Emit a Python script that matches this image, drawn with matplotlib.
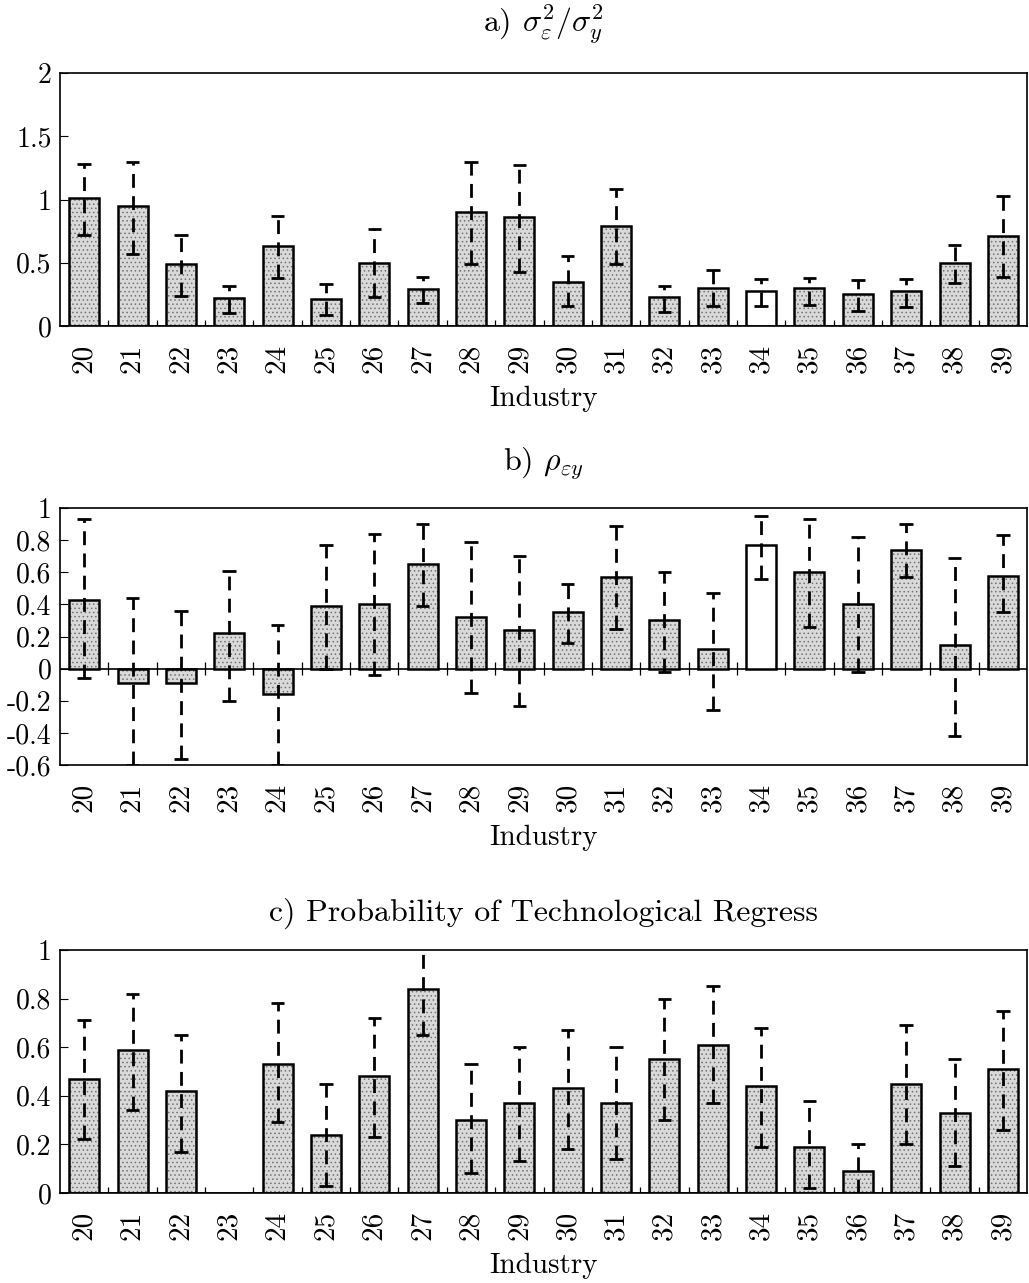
import numpy as np
import matplotlib
matplotlib.use("Agg")
from matplotlib import pyplot as plt

plt.rcParams['font.family'] = 'serif'
plt.rcParams['font.serif'] = ['cmr10', 'DejaVu Serif']
plt.rcParams['mathtext.fontset'] = 'cm'
plt.rcParams['axes.unicode_minus'] = False
plt.rcParams['hatch.linewidth'] = 0.6

industries = [str(i) for i in range(20, 40)]

# a) variance ratio
a_val = [1.01, 0.95, 0.49, 0.22, 0.63, 0.21, 0.50, 0.29, 0.90, 0.86,
         0.35, 0.79, 0.23, 0.30, 0.28, 0.30, 0.25, 0.28, 0.50, 0.71]
a_lo = [0.72, 0.57, 0.24, 0.10, 0.38, 0.09, 0.23, 0.18, 0.49, 0.43,
        0.16, 0.49, 0.11, 0.16, 0.16, 0.17, 0.12, 0.15, 0.34, 0.39]
a_hi = [1.28, 1.30, 0.72, 0.32, 0.87, 0.33, 0.77, 0.39, 1.30, 1.27,
        0.55, 1.08, 0.32, 0.44, 0.37, 0.38, 0.36, 0.37, 0.64, 1.03]

# b) correlation
b_val = [0.43, -0.09, -0.09, 0.22, -0.16, 0.39, 0.40, 0.65, 0.32, 0.24,
         0.35, 0.57, 0.30, 0.12, 0.77, 0.60, 0.40, 0.74, 0.15, 0.58]
b_lo = [-0.06, -0.60, -0.56, -0.20, -0.60, 0.00, -0.04, 0.39, -0.15, -0.23,
        0.16, 0.25, -0.02, -0.26, 0.56, 0.26, -0.02, 0.57, -0.42, 0.35]
b_hi = [0.93, 0.44, 0.36, 0.61, 0.27, 0.77, 0.84, 0.90, 0.79, 0.70,
        0.53, 0.89, 0.60, 0.47, 0.95, 0.93, 0.82, 0.90, 0.69, 0.83]

# c) probability of technological regress (23 has no estimate)
c_val = [0.47, 0.59, 0.42, np.nan, 0.53, 0.24, 0.48, 0.84, 0.30, 0.37,
         0.43, 0.37, 0.55, 0.61, 0.44, 0.19, 0.09, 0.45, 0.33, 0.51]
c_lo = [0.22, 0.34, 0.17, np.nan, 0.29, 0.03, 0.23, 0.65, 0.08, 0.13,
        0.18, 0.14, 0.30, 0.37, 0.19, 0.02, 0.00, 0.20, 0.11, 0.26]
c_hi = [0.71, 0.82, 0.65, np.nan, 0.78, 0.45, 0.72, 1.01, 0.53, 0.60,
        0.67, 0.60, 0.80, 0.85, 0.68, 0.38, 0.20, 0.69, 0.55, 0.75]

panels = [
    (r'a) $\sigma_\varepsilon^2/\sigma_y^2$', a_val, a_lo, a_hi,
     (0, 2), [0, 0.5, 1, 1.5, 2], ['0', '0.5', '1', '1.5', '2'],
     [0.0583, 0.7459, 0.9398, 0.1972], ['34'], 30),
    (r'b) $\rho_{\varepsilon y}$', b_val, b_lo, b_hi,
     (-0.6, 1), [-0.6, -0.4, -0.2, 0, 0.2, 0.4, 0.6, 0.8, 1],
     ['-0.6', '-0.4', '-0.2', '0', '0.2', '0.4', '0.6', '0.8', '1'],
     [0.0583, 0.4037, 0.9398, 0.2003], ['34'], 27),
    ('c) Probability of Technological Regress', c_val, c_lo, c_hi,
     (0, 1), [0, 0.2, 0.4, 0.6, 0.8, 1],
     ['0', '0.2', '0.4', '0.6', '0.8', '1'],
     [0.0583, 0.0702, 0.9398, 0.1894], [], 21),
]

fig = plt.figure(figsize=(10.29, 12.83), dpi=100)

x = np.arange(len(industries)) + 0.5
edges = np.arange(len(industries) + 1)

for title, val, lo, hi, ylim, yt, ytl, pos, white, tpad in panels:
    ax = fig.add_axes(pos)
    val = np.array(val, dtype=float)
    lo = np.array(lo, dtype=float)
    hi = np.array(hi, dtype=float)
    ok = ~np.isnan(val)
    colors = np.array(['white' if ind in white else '#d9d9d9' for ind in industries])
    bars = ax.bar(x[ok], val[ok], width=0.62, color=colors[ok],
                  edgecolor='black', linewidth=1.8, hatch='....', zorder=2)
    for b, c in zip(bars, colors[ok]):
        if c == 'white':
            b.set_hatch(None)
        b._hatch_color = (0.45, 0.45, 0.45, 1.0)
    ax.vlines(x[ok], lo[ok], hi[ok], colors='black', linestyles=(0, (5, 3)),
              linewidth=2.0, zorder=3)
    ax.hlines(lo[ok], x[ok] - 0.14, x[ok] + 0.14, colors='black', linewidth=2.0, zorder=3)
    ax.hlines(hi[ok], x[ok] - 0.14, x[ok] + 0.14, colors='black', linewidth=2.0, zorder=3)

    ax.set_xlim(0, len(industries))
    ax.set_ylim(*ylim)
    ax.set_yticks(yt)
    ax.set_yticklabels(ytl, fontsize=20)
    ax.tick_params(axis='y', direction='in', length=6, width=0.8, pad=6)

    ax.set_xticks(x)
    ax.set_xticklabels(industries, rotation=90, fontsize=21)
    ax.tick_params(axis='x', length=0, pad=13)
    # boundary ticks on the zero line
    ax.axhline(0, color='black', linewidth=1.2, zorder=1)
    tl = (ylim[1] - ylim[0]) * 0.025
    ax.vlines(edges[1:-1], -tl, tl, colors='black', linewidth=0.9, zorder=1)

    for s in ax.spines.values():
        s.set_linewidth(1.2)
    ax.set_title(title, fontsize=23, pad=tpad)
    ax.set_xlabel('Industry', fontsize=21, labelpad=9)

fig.savefig('out.png', dpi=100)
